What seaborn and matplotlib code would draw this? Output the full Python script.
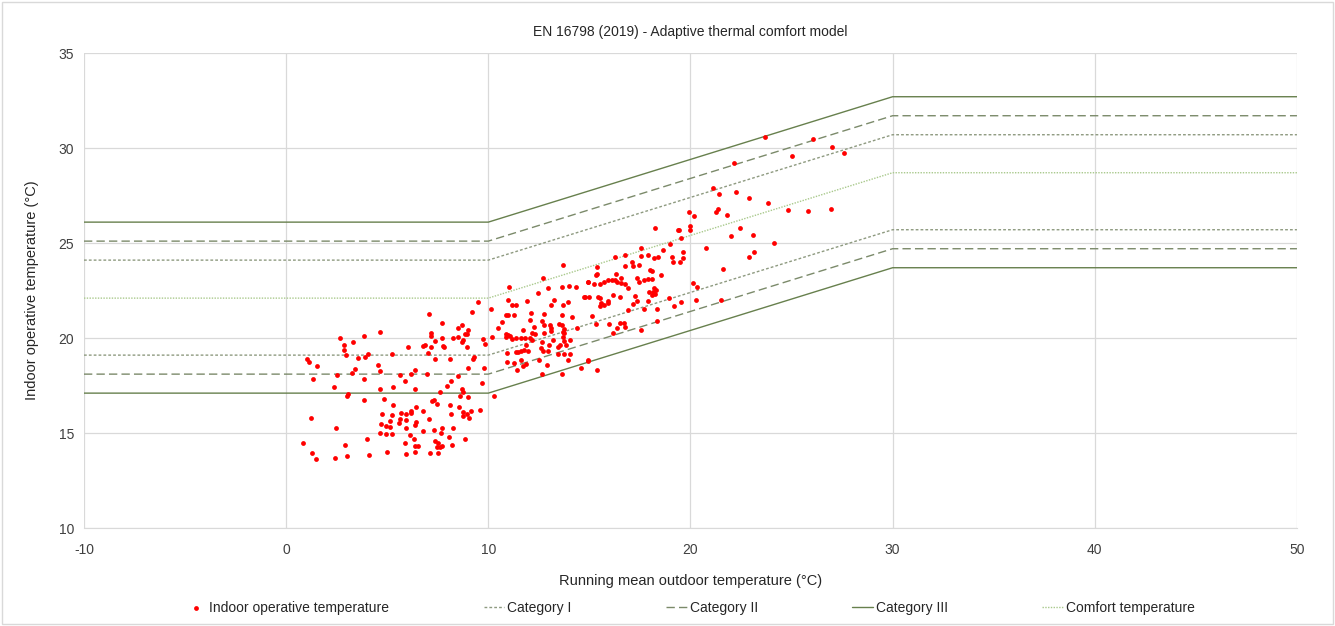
import matplotlib
matplotlib.use("Agg")
import matplotlib.pyplot as plt
from matplotlib.patches import Rectangle
import seaborn as sns
import pandas as pd

# Running mean outdoor temperature breakpoints and model limits
trm = [-10, 10, 30, 50]
comfort = [22.1, 22.1, 28.7, 28.7]
cat1_upper = [24.1, 24.1, 30.7, 30.7]
cat1_lower = [19.1, 19.1, 25.7, 25.7]
cat2_upper = [25.1, 25.1, 31.7, 31.7]
cat2_lower = [18.1, 18.1, 24.7, 24.7]
cat3_upper = [26.1, 26.1, 32.7, 32.7]
cat3_lower = [17.1, 17.1, 23.7, 23.7]

indoor_x = [
    2.67, 3.86, 4.65, 3.33, 2.87, 2.84, 2.97, 4.04, 3.56, 3.92, 1.02, 1.12, 1.55, 4.53, 4.65, 3.41,
    3.28, 2.54, 1.32, 3.86, 2.39, 4.62, 3.05, 3.03, 3.86, 4.85, 4.75, 1.22, 4.68, 4.95, 2.46, 4.65,
    4.95, 4.01, 0.84, 2.89, 1.27, 1.47, 2.43, 3.0, 4.09, 5.01,
    7.05, 7.73, 8.72, 8.51, 9.02, 7.16, 7.16, 8.97, 8.85, 7.7, 8.49, 8.23, 7.37, 8.75, 8.69, 9.73,
    9.84, 7.78, 7.82, 6.76, 6.86, 7.19, 8.94, 6.05, 5.26, 7.01, 7.34, 8.11, 9.28, 9.23, 9.0, 9.78,
    6.35, 6.19, 5.61, 6.98, 8.52, 5.89, 8.15, 7.98, 5.3, 6.35, 8.69, 9.71,
    7.62, 8.76, 8.61, 8.99, 7.21, 7.29, 7.47, 5.31, 6.43, 8.11, 8.54, 6.2, 6.2, 5.66, 5.92, 6.79,
    9.15, 8.77, 9.61, 8.95, 8.74, 9.05, 5.23, 5.62, 5.95, 5.15, 5.56, 6.42, 6.37, 7.06, 8.16, 5.15,
    5.92, 6.79, 7.31, 7.7, 8.23, 7.65, 5.23, 6.14, 6.33, 8.05, 8.84, 7.34, 7.5, 7.45, 7.62, 7.73,
    5.87, 6.38, 6.51, 8.19, 5.95, 6.38, 7.12, 7.5,
    13.7, 12.72, 11.03, 12.97, 13.63, 13.99, 14.32, 14.91, 12.44, 10.96, 11.92, 13.23, 11.19, 11.39,
    13.12, 13.68, 13.96, 14.72, 14.8, 10.14, 12.11, 10.88, 10.99, 12.77, 11.26, 13.66, 12.05, 12.67,
    14.16, 10.66, 10.5, 11.7, 12.28, 13.07, 13.1, 13.51, 13.63, 12.74, 13.74, 14.37,
    10.86, 10.99, 11.08, 10.89, 10.2, 12.15, 12.31, 12.77, 13.09, 13.68, 13.76, 11.19, 11.36, 11.6,
    11.82, 12.05, 12.15, 13.22, 13.7, 13.73, 14.02, 12.67, 13.0, 13.43, 13.55, 13.84, 11.85, 11.78,
    12.59, 12.72, 12.97, 10.94, 11.39, 11.49, 11.62, 11.95, 13.46, 13.73, 14.04, 10.93, 11.6, 11.29,
    11.7, 11.87, 12.51, 12.89, 13.93, 14.91, 11.41, 14.57, 12.64, 13.65, 10.27,
    19.93, 20.16, 18.27, 19.37, 19.45, 19.99, 19.99, 19.53, 18.99, 17.53, 18.66, 19.62, 16.26, 16.75,
    17.53, 17.89, 18.18, 18.38, 19.07, 19.62, 17.13, 19.14, 19.49, 15.38, 16.78, 17.18, 17.46, 17.99,
    18.12, 15.38, 15.33, 16.31, 18.56, 17.34, 16.55, 14.92, 15.53, 15.73, 15.91, 16.11, 16.29, 16.36,
    16.55, 16.78, 17.43, 17.72, 17.89, 18.08, 15.23,
    16.9, 14.99, 15.42, 15.53, 15.58, 15.53, 15.7, 15.94, 15.91, 16.19, 16.5, 17.26, 17.34, 17.18,
    17.95, 18.08, 18.17, 18.25, 18.28, 18.22, 17.92, 18.93, 19.17, 19.53, 17.71, 16.93, 18.33, 15.15,
    15.35, 15.99, 16.49, 16.73, 16.77, 16.37, 16.17, 18.33, 17.54, 14.92, 15.37,
    23.67, 22.15, 21.13, 21.41, 22.24, 22.88, 23.84, 21.35, 21.28, 21.81, 22.43, 21.99, 23.09, 20.77,
    23.13, 22.88, 21.6, 20.11, 20.34, 20.28, 21.5,
    26.05, 27.02, 27.58, 25.04, 24.84, 25.83, 26.97, 24.13,
    9.2, 9.49,
]
indoor_y = [
    19.99, 20.1, 20.32, 19.81, 19.63, 19.37, 19.13, 19.14, 18.95, 18.98, 18.9, 18.76, 18.55, 18.6, 18.25, 18.35,
    18.14, 18.06, 17.83, 17.86, 17.41, 17.3, 17.07, 16.97, 16.74, 16.81, 16.0, 15.81, 15.48, 15.37, 15.27, 15.02,
    14.97, 14.7, 14.49, 14.35, 13.95, 13.65, 13.69, 13.77, 13.83, 14.0,
    21.25, 20.77, 20.68, 20.51, 20.44, 20.25, 20.1, 20.23, 20.2, 20.0, 20.03, 19.98, 19.86, 19.91, 19.77, 19.95,
    19.68, 19.58, 19.53, 19.58, 19.65, 19.53, 19.51, 19.51, 19.14, 19.19, 18.91, 18.91, 19.0, 18.88, 18.44, 18.42,
    18.33, 18.09, 18.03, 18.12, 18.0, 17.74, 17.74, 17.47, 17.44, 17.3, 17.3, 17.61,
    17.14, 17.14, 16.95, 16.92, 16.71, 16.76, 16.53, 16.5, 16.37, 16.48, 16.37, 16.16, 16.06, 16.07, 16.0, 16.14,
    16.18, 16.13, 16.2, 15.99, 15.92, 15.79, 15.95, 15.76, 15.69, 15.62, 15.51, 15.6, 15.44, 15.74, 15.99, 15.34,
    15.27, 15.13, 15.16, 15.25, 15.27, 15.02, 14.95, 14.92, 14.67, 14.78, 14.71, 14.58, 14.5, 14.28, 14.28, 14.34,
    14.5, 14.32, 14.32, 14.37, 13.92, 14.0, 13.95, 13.95,
    23.86, 23.17, 22.67, 22.65, 22.68, 22.74, 22.7, 22.95, 22.37, 21.98, 21.96, 22.0, 21.74, 21.74,
    21.72, 21.72, 21.88, 22.17, 22.14, 21.51, 21.33, 21.21, 21.19, 21.26, 21.19, 21.23, 20.93, 20.92,
    21.12, 20.82, 20.52, 20.42, 20.56, 20.67, 20.51, 20.74, 20.7, 20.67, 20.49, 20.54,
    20.21, 20.15, 20.12, 20.05, 20.05, 20.24, 20.19, 20.29, 20.36, 20.33, 20.26, 19.94, 19.98, 19.98,
    19.98, 19.98, 19.91, 19.91, 20.05, 19.84, 19.91, 19.77, 19.63, 19.54, 19.63, 19.63, 19.63, 19.36,
    19.45, 19.31, 19.31, 19.21, 19.28, 19.28, 19.31, 19.33, 19.14, 19.14, 19.14, 18.75, 18.82, 18.66,
    18.54, 18.63, 18.82, 18.58, 18.82, 18.82, 18.33, 18.43, 18.1, 18.1, 16.93,
    26.65, 26.44, 25.78, 25.69, 25.71, 25.9, 25.67, 25.25, 24.93, 24.72, 24.64, 24.51, 24.28, 24.37,
    24.34, 24.37, 24.23, 24.25, 24.28, 24.2, 24.02, 24.02, 24.02, 23.76, 23.79, 23.79, 23.83, 23.57,
    23.53, 23.39, 23.3, 23.39, 23.32, 23.18, 23.14, 22.97, 22.86, 22.93, 23.06, 23.06, 23.04, 22.93,
    22.88, 22.83, 22.93, 23.06, 23.11, 23.11, 22.83,
    22.61, 22.17, 22.17, 22.09, 21.86, 21.68, 21.73, 21.96, 21.82, 22.26, 22.17, 22.21, 21.96, 21.79,
    22.42, 22.28, 22.4, 22.31, 22.52, 22.61, 21.94, 22.09, 21.68, 21.87, 21.51, 21.47, 21.51, 21.17,
    20.75, 20.75, 20.79, 20.8, 20.58, 20.51, 20.28, 20.91, 20.42, 18.8, 18.31,
    30.6, 29.23, 27.91, 27.56, 27.67, 27.35, 27.09, 26.77, 26.63, 26.48, 25.77, 25.37, 25.44, 24.72,
    24.53, 24.27, 23.65, 22.9, 22.69, 22.0, 21.98,
    30.46, 30.07, 29.76, 29.58, 26.74, 26.7, 26.81, 25.02,
    21.39, 21.88,
]

df = pd.DataFrame({"x": indoor_x, "y": indoor_y})

sns.set_style("whitegrid")
plt.rcParams["font.family"] = ["Liberation Sans", "DejaVu Sans"]
plt.rcParams["axes.unicode_minus"] = False

fig, ax = plt.subplots(figsize=(13.35, 6.26), dpi=100)
fig.subplots_adjust(left=0.0629, right=0.9715, bottom=0.1565, top=0.9153)

c1 = "#8e9a80"
c2 = "#7b8a6a"
c3 = "#67804d"
cc = "#a9c98c"

sns.lineplot(x=trm, y=cat1_upper, color=c1, lw=1.0, linestyle=(0, (2, 1.5)), ax=ax, label="Category I")
sns.lineplot(x=trm, y=cat1_lower, color=c1, lw=1.0, linestyle=(0, (2, 1.5)), ax=ax)
sns.lineplot(x=trm, y=cat2_upper, color=c2, lw=1.0, linestyle=(0, (6, 3)), ax=ax, label="Category II")
sns.lineplot(x=trm, y=cat2_lower, color=c2, lw=1.0, linestyle=(0, (6, 3)), ax=ax)
sns.lineplot(x=trm, y=cat3_upper, color=c3, lw=1.0, ax=ax, label="Category III")
sns.lineplot(x=trm, y=cat3_lower, color=c3, lw=1.0, ax=ax)
sns.lineplot(x=trm, y=comfort, color=cc, lw=1.0, linestyle=(0, (1, 1)), ax=ax, label="Comfort temperature")
sns.scatterplot(data=df, x="x", y="y", color="#ff0000", s=12, linewidth=0, ax=ax,
                label="Indoor operative temperature", zorder=5)

ax.set_xlim(-10, 50)
ax.set_ylim(10, 35)
ax.set_xticks(range(-10, 51, 10))
ax.set_yticks(range(10, 36, 5))
ax.grid(color="#d9d9d9", linewidth=0.9)
for s in ["left", "right", "top"]:
    ax.spines[s].set_visible(False)
ax.spines["bottom"].set_color("#d9d9d9")
ax.tick_params(axis="both", length=0, labelsize=10, colors="#404040")
ax.tick_params(axis="x", pad=11)
ax.tick_params(axis="y", pad=7)

ax.set_title("EN 16798 (2019) - Adaptive thermal comfort model", fontsize=10, color="#262626", pad=12)
ax.set_xlabel("Running mean outdoor temperature (°C)", fontsize=10.5, color="#262626", labelpad=12)
ax.set_ylabel("Indoor operative temperature (°C)", fontsize=10.5, color="#262626", labelpad=14)

handles, labels = ax.get_legend_handles_labels()
ax.get_legend().remove()
order = [labels.index(l) for l in ["Indoor operative temperature", "Category I", "Category II",
                                   "Category III", "Comfort temperature"]]
fig.legend([handles[i] for i in order], [labels[i] for i in order], loc="center",
           bbox_to_anchor=(0.517, 0.029), ncol=5, frameon=False, fontsize=10,
           columnspacing=6.8, handlelength=1.5, handletextpad=0.2, labelcolor="#262626")

fig.patches.append(Rectangle((0.0015, 0.003), 0.997, 0.994, transform=fig.transFigure,
                             fill=False, edgecolor="#d9d9d9", linewidth=1))

fig.savefig("out.png", dpi=100)
